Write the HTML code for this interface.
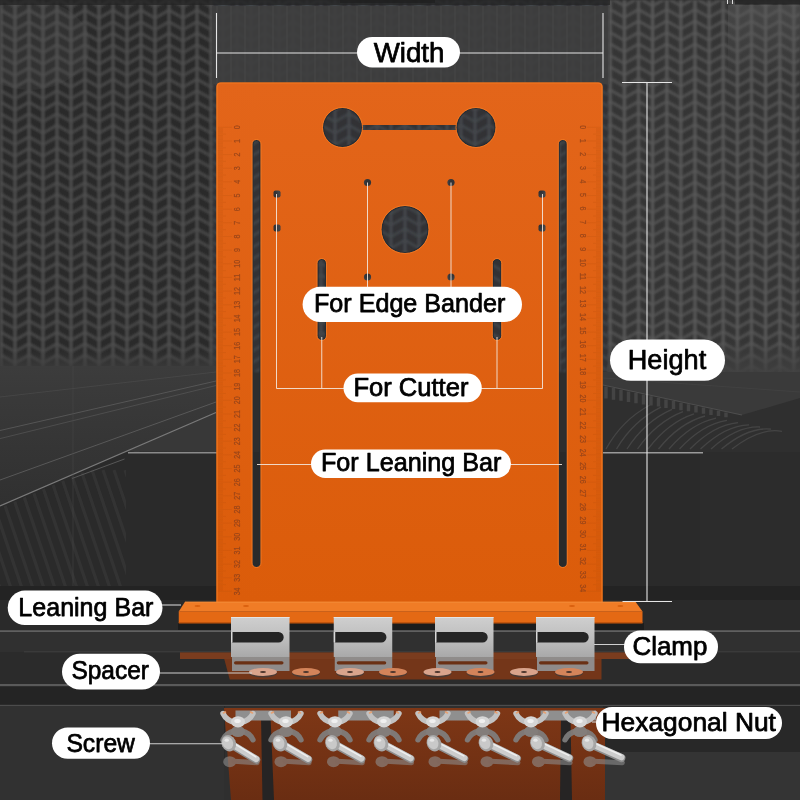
<!DOCTYPE html>
<html><head><meta charset="utf-8"><title>Product diagram</title>
<style>
html,body{margin:0;padding:0;background:#2e2e2e;}
body{width:800px;height:800px;overflow:hidden;font-family:"Liberation Sans",sans-serif;}
svg{display:block;}
svg text{font-family:"Liberation Sans",sans-serif;}
</style></head><body>
<svg width="800" height="800" viewBox="0 0 800 800">
<defs>
  <pattern id="chev" x="1" y="10.2" width="28" height="11.5" patternUnits="userSpaceOnUse">
    <rect width="28" height="11.5" fill="#2b2b2b"/>
    <path d="M0 -11.5 L14 -3.5 L28 -11.5 M0 0 L14 8 L28 0 M0 11.5 L14 19.5 L28 11.5" stroke="#4a4a4a" stroke-width="2.5" fill="none"/>
    <path d="M0 -2 V14 M14 -2 V14 M28 -2 V14" stroke="#4f4f4f" stroke-width="2.6" fill="none"/>
  </pattern>
  <pattern id="chevM" x="13" y="10.2" width="28" height="11.5" patternUnits="userSpaceOnUse">
    <rect width="28" height="11.5" fill="#303336"/>
    <path d="M0 -11.5 L14 -3.5 L28 -11.5 M0 0 L14 8 L28 0 M0 11.5 L14 19.5 L28 11.5" stroke="#42454a" stroke-width="2.5" fill="none"/>
    <path d="M0 -2 V14 M14 -2 V14 M28 -2 V14" stroke="#464a4e" stroke-width="2.6" fill="none"/>
  </pattern>
  <pattern id="chevR" x="17" y="9.5" width="28.25" height="11.5" patternUnits="userSpaceOnUse">
    <rect width="28.25" height="11.5" fill="#363636"/>
    <path d="M0 -11.5 L14.125 -3.5 L28.25 -11.5 M0 0 L14.125 8 L28.25 0 M0 11.5 L14.125 19.5 L28.25 11.5" stroke="#535353" stroke-width="2.5" fill="none"/>
    <path d="M0 -2 V14 M14.125 -2 V14 M28.25 -2 V14" stroke="#595959" stroke-width="2.6" fill="none"/>
  </pattern>
  <linearGradient id="wallx" x1="0" x2="1" y1="0" y2="0">
    <stop offset="0" stop-color="#000" stop-opacity="0.10"/>
    <stop offset="0.35" stop-color="#000" stop-opacity="0"/>
    <stop offset="0.7" stop-color="#fff" stop-opacity="0.04"/>
    <stop offset="1" stop-color="#fff" stop-opacity="0.06"/>
  </linearGradient>
  <linearGradient id="fadeR" x1="0" x2="0" y1="0" y2="1"><stop offset="0" stop-color="#404040" stop-opacity="0"/><stop offset="1" stop-color="#404040" stop-opacity="0.9"/></linearGradient>
  <linearGradient id="fadeL" x1="0" x2="0" y1="0" y2="1"><stop offset="0" stop-color="#3c3c3c" stop-opacity="0"/><stop offset="1" stop-color="#3c3c3c" stop-opacity="0.8"/></linearGradient>
  <linearGradient id="hazeTR" x1="0" x2="0" y1="0" y2="1"><stop offset="0" stop-color="#5a5a5a" stop-opacity="0.5"/><stop offset="1" stop-color="#5a5a5a" stop-opacity="0"/></linearGradient>
  <linearGradient id="floor" x1="0" x2="0" y1="0" y2="1">
    <stop offset="0" stop-color="#3c3c3c"/>
    <stop offset="1" stop-color="#303030"/>
  </linearGradient>
  <linearGradient id="plate" x1="0" x2="0" y1="0" y2="1">
    <stop offset="0" stop-color="#e3651a"/>
    <stop offset="1" stop-color="#db5c0a"/>
  </linearGradient>
  <linearGradient id="clampg" x1="0" x2="0" y1="0" y2="1">
    <stop offset="0" stop-color="#cfcfcf"/>
    <stop offset="0.55" stop-color="#bdbdbd"/>
    <stop offset="1" stop-color="#a9a9a9"/>
  </linearGradient>
  <linearGradient id="screwg" x1="0" x2="0" y1="0" y2="1">
    <stop offset="0" stop-color="#e6e6e6"/>
    <stop offset="0.5" stop-color="#bdbdbd"/>
    <stop offset="1" stop-color="#8a8a8a"/>
  </linearGradient>
  <linearGradient id="refl" x1="0" x2="0" y1="0" y2="1">
    <stop offset="0" stop-color="#7e3716"/>
    <stop offset="1" stop-color="#6a2d12"/>
  </linearGradient>
  <filter id="soft" x="0" y="0" width="1" height="1"><feGaussianBlur stdDeviation="0.8"/></filter>
  <clipPath id="wedgeclip"><path d="M0 508 L126 453.5 V586 H0 Z"/></clipPath>
  <mask id="holes">
    <rect x="0" y="0" width="800" height="800" fill="#fff"/>
    <g fill="#000" stroke="none">
      <circle cx="342.5" cy="127.5" r="19.5"/>
      <circle cx="476" cy="127.5" r="19.5"/>
      <rect x="342" y="125" width="134" height="5"/>
      <circle cx="405" cy="229.5" r="23.5"/>
      <rect x="252.5" y="140" width="8" height="427" rx="4"/>
      <rect x="558.75" y="140" width="8" height="427" rx="4"/>
      <rect x="317.5" y="259" width="8.5" height="81" rx="4.2"/>
      <rect x="492.75" y="259" width="8.5" height="81" rx="4.2"/>
      <circle cx="367.5" cy="182.5" r="3.6"/>
      <circle cx="451" cy="182.5" r="3.6"/>
      <circle cx="367.5" cy="277" r="3.6"/>
      <circle cx="451" cy="277" r="3.6"/>
      <rect x="273.5" y="190.5" width="7" height="7" rx="2"/>
      <rect x="273.5" y="224.5" width="7" height="7" rx="2"/>
      <rect x="538.5" y="190.5" width="7" height="7" rx="2"/>
      <rect x="538.5" y="224.5" width="7" height="7" rx="2"/>
    </g>
  </mask>
</defs>

<rect width="800" height="800" fill="#2e2e2e"/>
<g filter="url(#soft)">
<rect x="0" y="0" width="213" height="372" fill="url(#chev)"/>
<rect x="213" y="0" width="395" height="372" fill="url(#chevM)"/>
<rect x="608" y="0" width="192" height="374" fill="url(#chevR)"/>
</g>
<rect x="608" y="340" width="192" height="34" fill="url(#fadeR)"/>
<rect x="0" y="350" width="216" height="17" fill="url(#fadeL)"/>
<ellipse cx="30" cy="45" rx="60" ry="45" fill="#5a5a5a" opacity="0.18"/>
<rect x="212" y="6" width="396" height="78" fill="#3f3f3f" opacity="0.88"/>
<path d="M217 6V84 M231 6V84 M245 6V84 M259 6V84 M273 6V84 M287 6V84 M301 6V84 M315 6V84 M329 6V84 M343 6V84 M357 6V84 M371 6V84 M385 6V84 M399 6V84 M413 6V84 M427 6V84 M441 6V84 M455 6V84 M469 6V84 M483 6V84 M497 6V84 M511 6V84 M525 6V84 M539 6V84 M553 6V84 M567 6V84 M581 6V84 M595 6V84 M609 6V84" stroke="#474747" stroke-width="2" opacity="0.55"/>
<rect x="0" y="0" width="610" height="5" fill="#222" opacity="0.7"/>
<rect x="735" y="0" width="65" height="4.5" fill="#262626" opacity="0.9"/>
<rect x="728" y="5" width="72" height="75" fill="url(#hazeTR)"/>
<path d="M727.5 0 V4 M732.5 0 V4" stroke="#ddd" stroke-width="1"/>
<rect x="340" y="0" width="95" height="3" fill="#1c1c1c" opacity="0.6"/>
<path d="M0 366 H216 V412.5 L0 506 Z" fill="url(#floor)"/>
<path d="M0 506 L216 412.5 V586 H0 Z" fill="#2a2a2a"/>
<path d="M-40 470 l44 130 M-29 470 l44 130 M-18 470 l44 130 M-7 470 l44 130 M4 470 l44 130 M15 470 l44 130 M26 470 l44 130 M37 470 l44 130 M48 470 l44 130 M59 470 l44 130 M70 470 l44 130 M81 470 l44 130 M92 470 l44 130 M103 470 l44 130 M114 470 l44 130 M125 470 l44 130 M136 470 l44 130 M147 470 l44 130" stroke="#353535" stroke-width="3.2" opacity="0.9" clip-path="url(#wedgeclip)"/>
<path d="M130 455.0 l8 -5 M137 452.0 l8 -5 M144 449.0 l8 -5 M151 446.0 l8 -5 M158 443.0 l8 -5 M165 440.0 l8 -5 M172 437.0 l8 -5 M179 434.0 l8 -5 M186 431.0 l8 -5 M193 428.0 l8 -5 M200 425.0 l8 -5 M207 422.0 l8 -5" stroke="#3d3d3d" stroke-width="2" opacity="0.9"/>
<g stroke="#5c5c5c" stroke-width="1" fill="none"><path d="M0 397 L216 372" opacity="0.35"/><path d="M0 430.5 L216 381" opacity="0.8"/><path d="M0 438.6 L216 385.5" opacity="0.6"/><path d="M0 480 L216 402" opacity="0.9"/><path d="M72 478.5 L124.5 459" opacity="0.9"/></g>
<path d="M126 451.5 L216 412.5 V452 Z" fill="#383838"/>
<path d="M0 506 L216 412.5" stroke="#7a7a7a" stroke-width="1.3"/>
<path d="M73 366 V600" stroke="#4a4a4a" stroke-width="0.8" opacity="0.6"/>
<rect x="603" y="372" width="197" height="82" fill="#2f2f2f"/>
<path d="M603 372 H800 V398 L742 415 L603 385 Z" fill="#3a3a3a"/>
<path d="M603 385 L742 415" stroke="#4e4e4e" stroke-width="1.2"/>
<path d="M603 378 L800 392" stroke="#444" stroke-width="1" opacity="0.7"/>
<path d="M606.0 386.5 v12.0 M613.5 388.1 v11.6 M621.0 389.7 v11.1 M628.5 391.4 v10.7 M636.0 393.0 v10.2 M643.5 394.6 v9.8 M651.0 396.2 v9.3 M658.5 397.8 v8.8 M666.0 399.5 v8.4 M673.5 401.1 v8.0 M681.0 402.7 v7.5 M688.5 404.3 v7.0 M696.0 405.9 v6.6 M703.5 407.6 v6.1 M711.0 409.2 v5.7 M718.5 410.8 v5.2 M726.0 412.4 v4.8" stroke="#474747" stroke-width="3.4" opacity="0.9"/>
<g stroke="#464646" stroke-width="1.3" fill="none" opacity="0.95"><path d="M606.0 449 Q622.0 420.0 650.0 405.0"/><path d="M616.5 449 Q633.5 420.6 661.0 407.2"/><path d="M627.0 449 Q645.0 421.2 672.0 409.4"/><path d="M637.5 449 Q656.5 421.8 683.0 411.6"/><path d="M648.0 449 Q668.0 422.4 694.0 413.8"/><path d="M658.5 449 Q679.5 423.0 705.0 416.0"/><path d="M669.0 449 Q691.0 423.6 716.0 418.2"/><path d="M679.5 449 Q702.5 424.2 727.0 420.4"/><path d="M690.0 449 Q714.0 424.8 738.0 422.6"/><path d="M700.5 449 Q725.5 425.4 749.0 424.8"/><path d="M711.0 449 Q737.0 426.0 760.0 427.0"/><path d="M721.5 449 Q748.5 426.6 771.0 429.2"/><path d="M732.0 449 Q760.0 427.2 782.0 431.4"/></g>
<rect x="126" y="452" width="575" height="134" fill="#2a2a2a"/>
<rect x="700" y="452" width="100" height="134" fill="#2c2c2c"/>
<rect x="128" y="452" width="90" height="1.5" fill="#8a8a8a"/>
<rect x="603" y="452" width="100" height="1.5" fill="#9a9a9a"/>
<rect x="0" y="586" width="800" height="214" fill="#2d2d2d"/>
<rect x="0" y="586" width="800" height="14" fill="#232323"/>
<rect x="0" y="600" width="800" height="31" fill="#2a2a2a"/>
<rect x="0" y="630.3" width="800" height="1.6" fill="#666"/>
<rect x="0" y="632" width="800" height="20" fill="#303030"/>
<rect x="24" y="651.5" width="776" height="1" fill="#454545"/>
<rect x="0" y="652.5" width="800" height="32" fill="#2b2b2b"/>
<rect x="0" y="684" width="800" height="2.4" fill="#5a5a5a"/>
<rect x="0" y="686.4" width="800" height="19" fill="#242424"/>
<rect x="0" y="704.8" width="800" height="1.2" fill="#4c4c4c"/>
<rect x="0" y="706" width="800" height="94" fill="#2f2f2f"/>
<rect x="0" y="752" width="26" height="1" fill="#484848"/>
<rect x="603" y="706" width="197" height="46" fill="#282828"/>
<rect x="605" y="752" width="195" height="48" fill="#343434"/>
<rect x="135" y="706" width="90" height="56" fill="#292929"/>
<rect x="0" y="706" width="224" height="94" fill="#313131"/>
<rect x="178" y="623" width="466" height="7" fill="#1c1c1c"/>
<path d="M224 658 L601.5 658 L601.5 679.5 L229.7 679.5 Z" fill="#743619"/>
<rect x="180" y="652.4" width="462" height="6.6" fill="#7a3c1e"/>
<path d="M224 708 L605 708 L605 800 L231 800 Z" fill="url(#refl)"/>
<path d="M261 716 L270.5 716 L274 800 L262.5 800 Z" fill="#262424"/>
<path d="M561 716 L570.5 716 L572 800 L560 800 Z" fill="#262424"/>
<g mask="url(#holes)">
<path d="M216.5 603 V86.5 a4 4 0 0 1 4 -4 H598.5 a4 4 0 0 1 4 4 V603 Z" fill="url(#plate)"/>
</g>
<g fill="none" stroke="#242c36" stroke-width="1.2" opacity="0.9"><circle cx="342.5" cy="127.5" r="19"/><circle cx="476" cy="127.5" r="19"/><circle cx="405" cy="229.5" r="23"/><rect x="253" y="140.5" width="7" height="426" rx="3.5"/><rect x="559.25" y="140.5" width="7" height="426" rx="3.5"/><rect x="318" y="259.5" width="7.5" height="80" rx="3.7"/><rect x="493.25" y="259.5" width="7.5" height="80" rx="3.7"/></g>
<g fill="none" stroke="#f27a24" stroke-width="1" opacity="0.9"><circle cx="342.5" cy="127.5" r="20"/><circle cx="476" cy="127.5" r="20"/><circle cx="405" cy="229.5" r="24"/><rect x="252" y="139.5" width="9" height="428" rx="4.5"/><rect x="558.25" y="139.5" width="9" height="428" rx="4.5"/><rect x="317" y="258.5" width="9.5" height="82" rx="4.7"/><rect x="492.25" y="258.5" width="9.5" height="82" rx="4.7"/></g>
<path d="M217 602 V87 a4 4 0 0 1 4 -4 H598 a4 4 0 0 1 4 4 V602" fill="none" stroke="#f47a20" stroke-width="1.2" opacity="0.9"/>
<g font-size="9.6" fill="#96441a" opacity="0.92" stroke="#96441a" stroke-width="0.25"><text transform="translate(240 127.30) rotate(-90) scale(0.74 1)" text-anchor="middle">0</text><text transform="translate(580.2 127.20) rotate(90) scale(0.74 1)" text-anchor="middle">0</text><text transform="translate(240 140.95) rotate(-90) scale(0.74 1)" text-anchor="middle">1</text><text transform="translate(580.2 140.76) rotate(90) scale(0.74 1)" text-anchor="middle">1</text><text transform="translate(240 154.60) rotate(-90) scale(0.74 1)" text-anchor="middle">2</text><text transform="translate(580.2 154.32) rotate(90) scale(0.74 1)" text-anchor="middle">2</text><text transform="translate(240 168.25) rotate(-90) scale(0.74 1)" text-anchor="middle">3</text><text transform="translate(580.2 167.88) rotate(90) scale(0.74 1)" text-anchor="middle">3</text><text transform="translate(240 181.90) rotate(-90) scale(0.74 1)" text-anchor="middle">4</text><text transform="translate(580.2 181.44) rotate(90) scale(0.74 1)" text-anchor="middle">4</text><text transform="translate(240 195.55) rotate(-90) scale(0.74 1)" text-anchor="middle">5</text><text transform="translate(580.2 195.00) rotate(90) scale(0.74 1)" text-anchor="middle">5</text><text transform="translate(240 209.20) rotate(-90) scale(0.74 1)" text-anchor="middle">6</text><text transform="translate(580.2 208.56) rotate(90) scale(0.74 1)" text-anchor="middle">6</text><text transform="translate(240 222.85) rotate(-90) scale(0.74 1)" text-anchor="middle">7</text><text transform="translate(580.2 222.12) rotate(90) scale(0.74 1)" text-anchor="middle">7</text><text transform="translate(240 236.50) rotate(-90) scale(0.74 1)" text-anchor="middle">8</text><text transform="translate(580.2 235.68) rotate(90) scale(0.74 1)" text-anchor="middle">8</text><text transform="translate(240 250.15) rotate(-90) scale(0.74 1)" text-anchor="middle">9</text><text transform="translate(580.2 249.24) rotate(90) scale(0.74 1)" text-anchor="middle">9</text><text transform="translate(240 263.80) rotate(-90) scale(0.74 1)" text-anchor="middle">10</text><text transform="translate(580.2 262.80) rotate(90) scale(0.74 1)" text-anchor="middle">10</text><text transform="translate(240 277.45) rotate(-90) scale(0.74 1)" text-anchor="middle">11</text><text transform="translate(580.2 276.36) rotate(90) scale(0.74 1)" text-anchor="middle">11</text><text transform="translate(240 291.10) rotate(-90) scale(0.74 1)" text-anchor="middle">12</text><text transform="translate(580.2 289.92) rotate(90) scale(0.74 1)" text-anchor="middle">12</text><text transform="translate(240 304.75) rotate(-90) scale(0.74 1)" text-anchor="middle">13</text><text transform="translate(580.2 303.48) rotate(90) scale(0.74 1)" text-anchor="middle">13</text><text transform="translate(240 318.40) rotate(-90) scale(0.74 1)" text-anchor="middle">14</text><text transform="translate(580.2 317.04) rotate(90) scale(0.74 1)" text-anchor="middle">14</text><text transform="translate(240 332.05) rotate(-90) scale(0.74 1)" text-anchor="middle">15</text><text transform="translate(580.2 330.60) rotate(90) scale(0.74 1)" text-anchor="middle">15</text><text transform="translate(240 345.70) rotate(-90) scale(0.74 1)" text-anchor="middle">16</text><text transform="translate(580.2 344.16) rotate(90) scale(0.74 1)" text-anchor="middle">16</text><text transform="translate(240 359.35) rotate(-90) scale(0.74 1)" text-anchor="middle">17</text><text transform="translate(580.2 357.72) rotate(90) scale(0.74 1)" text-anchor="middle">17</text><text transform="translate(240 373.00) rotate(-90) scale(0.74 1)" text-anchor="middle">18</text><text transform="translate(580.2 371.28) rotate(90) scale(0.74 1)" text-anchor="middle">18</text><text transform="translate(240 386.65) rotate(-90) scale(0.74 1)" text-anchor="middle">19</text><text transform="translate(580.2 384.84) rotate(90) scale(0.74 1)" text-anchor="middle">19</text><text transform="translate(240 400.30) rotate(-90) scale(0.74 1)" text-anchor="middle">20</text><text transform="translate(580.2 398.40) rotate(90) scale(0.74 1)" text-anchor="middle">20</text><text transform="translate(240 413.95) rotate(-90) scale(0.74 1)" text-anchor="middle">21</text><text transform="translate(580.2 411.96) rotate(90) scale(0.74 1)" text-anchor="middle">21</text><text transform="translate(240 427.60) rotate(-90) scale(0.74 1)" text-anchor="middle">22</text><text transform="translate(580.2 425.52) rotate(90) scale(0.74 1)" text-anchor="middle">22</text><text transform="translate(240 441.25) rotate(-90) scale(0.74 1)" text-anchor="middle">23</text><text transform="translate(580.2 439.08) rotate(90) scale(0.74 1)" text-anchor="middle">23</text><text transform="translate(240 454.90) rotate(-90) scale(0.74 1)" text-anchor="middle">24</text><text transform="translate(580.2 452.64) rotate(90) scale(0.74 1)" text-anchor="middle">24</text><text transform="translate(240 468.55) rotate(-90) scale(0.74 1)" text-anchor="middle">25</text><text transform="translate(580.2 466.20) rotate(90) scale(0.74 1)" text-anchor="middle">25</text><text transform="translate(240 482.20) rotate(-90) scale(0.74 1)" text-anchor="middle">26</text><text transform="translate(580.2 479.76) rotate(90) scale(0.74 1)" text-anchor="middle">26</text><text transform="translate(240 495.85) rotate(-90) scale(0.74 1)" text-anchor="middle">27</text><text transform="translate(580.2 493.32) rotate(90) scale(0.74 1)" text-anchor="middle">27</text><text transform="translate(240 509.50) rotate(-90) scale(0.74 1)" text-anchor="middle">28</text><text transform="translate(580.2 506.88) rotate(90) scale(0.74 1)" text-anchor="middle">28</text><text transform="translate(240 523.15) rotate(-90) scale(0.74 1)" text-anchor="middle">29</text><text transform="translate(580.2 520.44) rotate(90) scale(0.74 1)" text-anchor="middle">29</text><text transform="translate(240 536.80) rotate(-90) scale(0.74 1)" text-anchor="middle">30</text><text transform="translate(580.2 534.00) rotate(90) scale(0.74 1)" text-anchor="middle">30</text><text transform="translate(240 550.45) rotate(-90) scale(0.74 1)" text-anchor="middle">31</text><text transform="translate(580.2 547.56) rotate(90) scale(0.74 1)" text-anchor="middle">31</text><text transform="translate(240 564.10) rotate(-90) scale(0.74 1)" text-anchor="middle">32</text><text transform="translate(580.2 561.12) rotate(90) scale(0.74 1)" text-anchor="middle">32</text><text transform="translate(240 577.75) rotate(-90) scale(0.74 1)" text-anchor="middle">33</text><text transform="translate(580.2 574.68) rotate(90) scale(0.74 1)" text-anchor="middle">33</text><text transform="translate(240 591.40) rotate(-90) scale(0.74 1)" text-anchor="middle">34</text><text transform="translate(580.2 588.24) rotate(90) scale(0.74 1)" text-anchor="middle">34</text></g>
<path d="M218 127.30H232 M587 127.30H601 M218 128.66h5 M601 128.66h-5 M218 130.03h5 M601 130.03h-5 M218 131.40h5 M601 131.40h-5 M218 132.76h5 M601 132.76h-5 M218 134.12h8 M601 134.12h-8 M218 135.49h5 M601 135.49h-5 M218 136.85h5 M601 136.85h-5 M218 138.22h5 M601 138.22h-5 M218 139.59h5 M601 139.59h-5 M218 140.95H232 M587 140.95H601 M218 142.31h5 M601 142.31h-5 M218 143.68h5 M601 143.68h-5 M218 145.04h5 M601 145.04h-5 M218 146.41h5 M601 146.41h-5 M218 147.77h8 M601 147.77h-8 M218 149.14h5 M601 149.14h-5 M218 150.50h5 M601 150.50h-5 M218 151.87h5 M601 151.87h-5 M218 153.23h5 M601 153.23h-5 M218 154.60H232 M587 154.60H601 M218 155.97h5 M601 155.97h-5 M218 157.33h5 M601 157.33h-5 M218 158.69h5 M601 158.69h-5 M218 160.06h5 M601 160.06h-5 M218 161.42h8 M601 161.42h-8 M218 162.79h5 M601 162.79h-5 M218 164.16h5 M601 164.16h-5 M218 165.52h5 M601 165.52h-5 M218 166.88h5 M601 166.88h-5 M218 168.25H232 M587 168.25H601 M218 169.62h5 M601 169.62h-5 M218 170.98h5 M601 170.98h-5 M218 172.34h5 M601 172.34h-5 M218 173.71h5 M601 173.71h-5 M218 175.07h8 M601 175.07h-8 M218 176.44h5 M601 176.44h-5 M218 177.81h5 M601 177.81h-5 M218 179.17h5 M601 179.17h-5 M218 180.53h5 M601 180.53h-5 M218 181.90H232 M587 181.90H601 M218 183.27h5 M601 183.27h-5 M218 184.63h5 M601 184.63h-5 M218 186.00h5 M601 186.00h-5 M218 187.36h5 M601 187.36h-5 M218 188.72h8 M601 188.72h-8 M218 190.09h5 M601 190.09h-5 M218 191.46h5 M601 191.46h-5 M218 192.82h5 M601 192.82h-5 M218 194.19h5 M601 194.19h-5 M218 195.55H232 M587 195.55H601 M218 196.92h5 M601 196.92h-5 M218 198.28h5 M601 198.28h-5 M218 199.65h5 M601 199.65h-5 M218 201.01h5 M601 201.01h-5 M218 202.38h8 M601 202.38h-8 M218 203.74h5 M601 203.74h-5 M218 205.11h5 M601 205.11h-5 M218 206.47h5 M601 206.47h-5 M218 207.84h5 M601 207.84h-5 M218 209.20H232 M587 209.20H601 M218 210.56h5 M601 210.56h-5 M218 211.93h5 M601 211.93h-5 M218 213.29h5 M601 213.29h-5 M218 214.66h5 M601 214.66h-5 M218 216.02h8 M601 216.02h-8 M218 217.39h5 M601 217.39h-5 M218 218.75h5 M601 218.75h-5 M218 220.12h5 M601 220.12h-5 M218 221.48h5 M601 221.48h-5 M218 222.85H232 M587 222.85H601 M218 224.22h5 M601 224.22h-5 M218 225.58h5 M601 225.58h-5 M218 226.94h5 M601 226.94h-5 M218 228.31h5 M601 228.31h-5 M218 229.67h8 M601 229.67h-8 M218 231.04h5 M601 231.04h-5 M218 232.41h5 M601 232.41h-5 M218 233.77h5 M601 233.77h-5 M218 235.13h5 M601 235.13h-5 M218 236.50H232 M587 236.50H601 M218 237.87h5 M601 237.87h-5 M218 239.23h5 M601 239.23h-5 M218 240.59h5 M601 240.59h-5 M218 241.96h5 M601 241.96h-5 M218 243.32h8 M601 243.32h-8 M218 244.69h5 M601 244.69h-5 M218 246.06h5 M601 246.06h-5 M218 247.42h5 M601 247.42h-5 M218 248.78h5 M601 248.78h-5 M218 250.15H232 M587 250.15H601 M218 251.52h5 M601 251.52h-5 M218 252.88h5 M601 252.88h-5 M218 254.25h5 M601 254.25h-5 M218 255.61h5 M601 255.61h-5 M218 256.98h8 M601 256.98h-8 M218 258.34h5 M601 258.34h-5 M218 259.70h5 M601 259.70h-5 M218 261.07h5 M601 261.07h-5 M218 262.44h5 M601 262.44h-5 M218 263.80H232 M587 263.80H601 M218 265.17h5 M601 265.17h-5 M218 266.53h5 M601 266.53h-5 M218 267.90h5 M601 267.90h-5 M218 269.26h5 M601 269.26h-5 M218 270.62h8 M601 270.62h-8 M218 271.99h5 M601 271.99h-5 M218 273.36h5 M601 273.36h-5 M218 274.72h5 M601 274.72h-5 M218 276.09h5 M601 276.09h-5 M218 277.45H232 M587 277.45H601 M218 278.81h5 M601 278.81h-5 M218 280.18h5 M601 280.18h-5 M218 281.55h5 M601 281.55h-5 M218 282.91h5 M601 282.91h-5 M218 284.27h8 M601 284.27h-8 M218 285.64h5 M601 285.64h-5 M218 287.00h5 M601 287.00h-5 M218 288.37h5 M601 288.37h-5 M218 289.74h5 M601 289.74h-5 M218 291.10H232 M587 291.10H601 M218 292.47h5 M601 292.47h-5 M218 293.83h5 M601 293.83h-5 M218 295.20h5 M601 295.20h-5 M218 296.56h5 M601 296.56h-5 M218 297.93h8 M601 297.93h-8 M218 299.29h5 M601 299.29h-5 M218 300.66h5 M601 300.66h-5 M218 302.02h5 M601 302.02h-5 M218 303.39h5 M601 303.39h-5 M218 304.75H232 M587 304.75H601 M218 306.12h5 M601 306.12h-5 M218 307.48h5 M601 307.48h-5 M218 308.85h5 M601 308.85h-5 M218 310.21h5 M601 310.21h-5 M218 311.57h8 M601 311.57h-8 M218 312.94h5 M601 312.94h-5 M218 314.31h5 M601 314.31h-5 M218 315.67h5 M601 315.67h-5 M218 317.04h5 M601 317.04h-5 M218 318.40H232 M587 318.40H601 M218 319.76h5 M601 319.76h-5 M218 321.13h5 M601 321.13h-5 M218 322.50h5 M601 322.50h-5 M218 323.86h5 M601 323.86h-5 M218 325.22h8 M601 325.22h-8 M218 326.59h5 M601 326.59h-5 M218 327.95h5 M601 327.95h-5 M218 329.32h5 M601 329.32h-5 M218 330.69h5 M601 330.69h-5 M218 332.05H232 M587 332.05H601 M218 333.42h5 M601 333.42h-5 M218 334.78h5 M601 334.78h-5 M218 336.15h5 M601 336.15h-5 M218 337.51h5 M601 337.51h-5 M218 338.88h8 M601 338.88h-8 M218 340.24h5 M601 340.24h-5 M218 341.61h5 M601 341.61h-5 M218 342.97h5 M601 342.97h-5 M218 344.34h5 M601 344.34h-5 M218 345.70H232 M587 345.70H601 M218 347.06h5 M601 347.06h-5 M218 348.43h5 M601 348.43h-5 M218 349.80h5 M601 349.80h-5 M218 351.16h5 M601 351.16h-5 M218 352.52h8 M601 352.52h-8 M218 353.89h5 M601 353.89h-5 M218 355.25h5 M601 355.25h-5 M218 356.62h5 M601 356.62h-5 M218 357.99h5 M601 357.99h-5 M218 359.35H232 M587 359.35H601 M218 360.72h5 M601 360.72h-5 M218 362.08h5 M601 362.08h-5 M218 363.45h5 M601 363.45h-5 M218 364.81h5 M601 364.81h-5 M218 366.18h8 M601 366.18h-8 M218 367.54h5 M601 367.54h-5 M218 368.91h5 M601 368.91h-5 M218 370.27h5 M601 370.27h-5 M218 371.64h5 M601 371.64h-5 M218 373.00H232 M587 373.00H601 M218 374.37h5 M601 374.37h-5 M218 375.73h5 M601 375.73h-5 M218 377.10h5 M601 377.10h-5 M218 378.46h5 M601 378.46h-5 M218 379.82h8 M601 379.82h-8 M218 381.19h5 M601 381.19h-5 M218 382.56h5 M601 382.56h-5 M218 383.92h5 M601 383.92h-5 M218 385.29h5 M601 385.29h-5 M218 386.65H232 M587 386.65H601 M218 388.02h5 M601 388.02h-5 M218 389.38h5 M601 389.38h-5 M218 390.75h5 M601 390.75h-5 M218 392.11h5 M601 392.11h-5 M218 393.48h8 M601 393.48h-8 M218 394.84h5 M601 394.84h-5 M218 396.21h5 M601 396.21h-5 M218 397.57h5 M601 397.57h-5 M218 398.94h5 M601 398.94h-5 M218 400.30H232 M587 400.30H601 M218 401.67h5 M601 401.67h-5 M218 403.03h5 M601 403.03h-5 M218 404.40h5 M601 404.40h-5 M218 405.76h5 M601 405.76h-5 M218 407.12h8 M601 407.12h-8 M218 408.49h5 M601 408.49h-5 M218 409.86h5 M601 409.86h-5 M218 411.22h5 M601 411.22h-5 M218 412.59h5 M601 412.59h-5 M218 413.95H232 M587 413.95H601 M218 415.32h5 M601 415.32h-5 M218 416.68h5 M601 416.68h-5 M218 418.05h5 M601 418.05h-5 M218 419.41h5 M601 419.41h-5 M218 420.78h8 M601 420.78h-8 M218 422.14h5 M601 422.14h-5 M218 423.51h5 M601 423.51h-5 M218 424.87h5 M601 424.87h-5 M218 426.24h5 M601 426.24h-5 M218 427.60H232 M587 427.60H601 M218 428.97h5 M601 428.97h-5 M218 430.33h5 M601 430.33h-5 M218 431.70h5 M601 431.70h-5 M218 433.06h5 M601 433.06h-5 M218 434.43h8 M601 434.43h-8 M218 435.79h5 M601 435.79h-5 M218 437.16h5 M601 437.16h-5 M218 438.52h5 M601 438.52h-5 M218 439.89h5 M601 439.89h-5 M218 441.25H232 M587 441.25H601 M218 442.62h5 M601 442.62h-5 M218 443.98h5 M601 443.98h-5 M218 445.35h5 M601 445.35h-5 M218 446.71h5 M601 446.71h-5 M218 448.07h8 M601 448.07h-8 M218 449.44h5 M601 449.44h-5 M218 450.81h5 M601 450.81h-5 M218 452.17h5 M601 452.17h-5 M218 453.54h5 M601 453.54h-5 M218 454.90H232 M587 454.90H601 M218 456.27h5 M601 456.27h-5 M218 457.63h5 M601 457.63h-5 M218 459.00h5 M601 459.00h-5 M218 460.36h5 M601 460.36h-5 M218 461.73h8 M601 461.73h-8 M218 463.09h5 M601 463.09h-5 M218 464.46h5 M601 464.46h-5 M218 465.82h5 M601 465.82h-5 M218 467.19h5 M601 467.19h-5 M218 468.55H232 M587 468.55H601 M218 469.92h5 M601 469.92h-5 M218 471.28h5 M601 471.28h-5 M218 472.65h5 M601 472.65h-5 M218 474.01h5 M601 474.01h-5 M218 475.38h8 M601 475.38h-8 M218 476.74h5 M601 476.74h-5 M218 478.11h5 M601 478.11h-5 M218 479.47h5 M601 479.47h-5 M218 480.84h5 M601 480.84h-5 M218 482.20H232 M587 482.20H601 M218 483.57h5 M601 483.57h-5 M218 484.93h5 M601 484.93h-5 M218 486.30h5 M601 486.30h-5 M218 487.66h5 M601 487.66h-5 M218 489.03h8 M601 489.03h-8 M218 490.39h5 M601 490.39h-5 M218 491.76h5 M601 491.76h-5 M218 493.12h5 M601 493.12h-5 M218 494.49h5 M601 494.49h-5 M218 495.85H232 M587 495.85H601 M218 497.22h5 M601 497.22h-5 M218 498.58h5 M601 498.58h-5 M218 499.95h5 M601 499.95h-5 M218 501.31h5 M601 501.31h-5 M218 502.68h8 M601 502.68h-8 M218 504.04h5 M601 504.04h-5 M218 505.41h5 M601 505.41h-5 M218 506.77h5 M601 506.77h-5 M218 508.14h5 M601 508.14h-5 M218 509.50H232 M587 509.50H601 M218 510.87h5 M601 510.87h-5 M218 512.23h5 M601 512.23h-5 M218 513.60h5 M601 513.60h-5 M218 514.96h5 M601 514.96h-5 M218 516.33h8 M601 516.33h-8 M218 517.69h5 M601 517.69h-5 M218 519.05h5 M601 519.05h-5 M218 520.42h5 M601 520.42h-5 M218 521.78h5 M601 521.78h-5 M218 523.15H232 M587 523.15H601 M218 524.51h5 M601 524.51h-5 M218 525.88h5 M601 525.88h-5 M218 527.25h5 M601 527.25h-5 M218 528.61h5 M601 528.61h-5 M218 529.98h8 M601 529.98h-8 M218 531.34h5 M601 531.34h-5 M218 532.70h5 M601 532.70h-5 M218 534.07h5 M601 534.07h-5 M218 535.43h5 M601 535.43h-5 M218 536.80H232 M587 536.80H601 M218 538.16h5 M601 538.16h-5 M218 539.53h5 M601 539.53h-5 M218 540.89h5 M601 540.89h-5 M218 542.26h5 M601 542.26h-5 M218 543.62h8 M601 543.62h-8 M218 544.99h5 M601 544.99h-5 M218 546.35h5 M601 546.35h-5 M218 547.72h5 M601 547.72h-5 M218 549.08h5 M601 549.08h-5 M218 550.45H232 M587 550.45H601 M218 551.82h5 M601 551.82h-5 M218 553.18h5 M601 553.18h-5 M218 554.55h5 M601 554.55h-5 M218 555.91h5 M601 555.91h-5 M218 557.28h8 M601 557.28h-8 M218 558.64h5 M601 558.64h-5 M218 560.00h5 M601 560.00h-5 M218 561.37h5 M601 561.37h-5 M218 562.74h5 M601 562.74h-5 M218 564.10H232 M587 564.10H601 M218 565.47h5 M601 565.47h-5 M218 566.83h5 M601 566.83h-5 M218 568.20h5 M601 568.20h-5 M218 569.56h5 M601 569.56h-5 M218 570.93h8 M601 570.93h-8 M218 572.29h5 M601 572.29h-5 M218 573.65h5 M601 573.65h-5 M218 575.02h5 M601 575.02h-5 M218 576.38h5 M601 576.38h-5 M218 577.75H232 M587 577.75H601 M218 579.12h5 M601 579.12h-5 M218 580.48h5 M601 580.48h-5 M218 581.85h5 M601 581.85h-5 M218 583.21h5 M601 583.21h-5 M218 584.58h8 M601 584.58h-8 M218 585.94h5 M601 585.94h-5 M218 587.30h5 M601 587.30h-5 M218 588.67h5 M601 588.67h-5 M218 590.03h5 M601 590.03h-5 M218 591.40H232 M587 591.40H601" stroke="#b8500f" stroke-width="0.5" opacity="0.45" fill="none"/>
<path d="M185 601.8 L635.5 601.8 L642.5 611.5 L178.75 611.5 Z" fill="#f07c26"/>
<rect x="178.75" y="611.3" width="463.75" height="11.9" fill="#e46914"/>
<rect x="178.75" y="622.2" width="463.75" height="1.2" fill="#b9500c"/>
<path d="M185 602.1 H635.5" stroke="#f89a4a" stroke-width="0.8" opacity="0.7"/>
<ellipse cx="197.5" cy="606" rx="3" ry="1" fill="#d9600e"/>
<ellipse cx="246" cy="606" rx="3" ry="1" fill="#d9600e"/>
<ellipse cx="572" cy="606" rx="3" ry="1" fill="#d9600e"/>
<ellipse cx="620.4" cy="606" rx="3" ry="1" fill="#d9600e"/>
<rect x="232" y="657" width="57.5" height="14" fill="#909090" opacity="0.95"/>
<rect x="234" y="661.2" width="49.5" height="3.2" rx="1.6" fill="#6a3014"/>
<rect x="231" y="617" width="58.5" height="40" fill="url(#clampg)"/>
<rect x="231" y="617" width="58.5" height="1" fill="#e4e4e4"/>
<path d="M232 632 H278.5 a5.2 5.2 0 0 1 0 10.4 H232 Z" fill="#242424"/>
<rect x="231" y="632" width="1.5" height="10.4" fill="#d8d8d8"/>
<rect x="235.5" y="710.5" width="55.5" height="10" fill="#8f8f8f"/>
<rect x="334.75" y="657" width="57.5" height="14" fill="#909090" opacity="0.95"/>
<rect x="336.75" y="661.2" width="49.5" height="3.2" rx="1.6" fill="#6a3014"/>
<rect x="333.75" y="617" width="58.5" height="40" fill="url(#clampg)"/>
<rect x="333.75" y="617" width="58.5" height="1" fill="#e4e4e4"/>
<path d="M334.75 632 H381.25 a5.2 5.2 0 0 1 0 10.4 H334.75 Z" fill="#242424"/>
<rect x="333.75" y="632" width="1.5" height="10.4" fill="#d8d8d8"/>
<rect x="338.25" y="710.5" width="55.5" height="10" fill="#8f8f8f"/>
<rect x="436" y="657" width="57.5" height="14" fill="#909090" opacity="0.95"/>
<rect x="438" y="661.2" width="49.5" height="3.2" rx="1.6" fill="#6a3014"/>
<rect x="435" y="617" width="58.5" height="40" fill="url(#clampg)"/>
<rect x="435" y="617" width="58.5" height="1" fill="#e4e4e4"/>
<path d="M436 632 H482.5 a5.2 5.2 0 0 1 0 10.4 H436 Z" fill="#242424"/>
<rect x="435" y="632" width="1.5" height="10.4" fill="#d8d8d8"/>
<rect x="439.5" y="710.5" width="55.5" height="10" fill="#8f8f8f"/>
<rect x="537" y="657" width="57.5" height="14" fill="#909090" opacity="0.95"/>
<rect x="539" y="661.2" width="49.5" height="3.2" rx="1.6" fill="#6a3014"/>
<rect x="536" y="617" width="58.5" height="40" fill="url(#clampg)"/>
<rect x="536" y="617" width="58.5" height="1" fill="#e4e4e4"/>
<path d="M537 632 H583.5 a5.2 5.2 0 0 1 0 10.4 H537 Z" fill="#242424"/>
<rect x="536" y="632" width="1.5" height="10.4" fill="#d8d8d8"/>
<rect x="540.5" y="710.5" width="55.5" height="10" fill="#8f8f8f"/>
<ellipse cx="263" cy="673.2" rx="14" ry="4.2" fill="#4a3a34"/>
<ellipse cx="263" cy="672" rx="14" ry="3.9" fill="#d9a48c"/>
<ellipse cx="263" cy="672" rx="3" ry="1" fill="#4a342c"/>
<ellipse cx="306" cy="673.2" rx="14" ry="4.2" fill="#4a3a34"/>
<ellipse cx="306" cy="672" rx="14" ry="3.9" fill="#d4845a"/>
<ellipse cx="306" cy="672" rx="3" ry="1" fill="#4a342c"/>
<ellipse cx="350" cy="673.2" rx="14" ry="4.2" fill="#4a3a34"/>
<ellipse cx="350" cy="672" rx="14" ry="3.9" fill="#d9a48c"/>
<ellipse cx="350" cy="672" rx="3" ry="1" fill="#4a342c"/>
<ellipse cx="393" cy="673.2" rx="14" ry="4.2" fill="#4a3a34"/>
<ellipse cx="393" cy="672" rx="14" ry="3.9" fill="#d4845a"/>
<ellipse cx="393" cy="672" rx="3" ry="1" fill="#4a342c"/>
<ellipse cx="437.5" cy="673.2" rx="14" ry="4.2" fill="#4a3a34"/>
<ellipse cx="437.5" cy="672" rx="14" ry="3.9" fill="#d9a48c"/>
<ellipse cx="437.5" cy="672" rx="3" ry="1" fill="#4a342c"/>
<ellipse cx="480.5" cy="673.2" rx="14" ry="4.2" fill="#4a3a34"/>
<ellipse cx="480.5" cy="672" rx="14" ry="3.9" fill="#d4845a"/>
<ellipse cx="480.5" cy="672" rx="3" ry="1" fill="#4a342c"/>
<ellipse cx="524" cy="673.2" rx="14" ry="4.2" fill="#4a3a34"/>
<ellipse cx="524" cy="672" rx="14" ry="3.9" fill="#d9a48c"/>
<ellipse cx="524" cy="672" rx="3" ry="1" fill="#4a342c"/>
<ellipse cx="569" cy="673.2" rx="14" ry="4.2" fill="#4a3a34"/>
<ellipse cx="569" cy="672" rx="14" ry="3.9" fill="#d4845a"/>
<ellipse cx="569" cy="672" rx="3" ry="1" fill="#4a342c"/>
<g opacity="0.9" fill="none" stroke-linecap="round"><path d="M235 731.0 Q226.5 732.5 223 739.8" stroke="#808080" stroke-width="5.4"/><path d="M241 731.0 Q249.5 732.5 253 739.8" stroke="#808080" stroke-width="5.4"/><ellipse cx="238" cy="731.5" rx="7" ry="5.6" fill="#858585" stroke="none"/></g>
<g opacity="1" fill="none" stroke-linecap="round"><path d="M235 722.3 Q226.5 720.8 223 713.5" stroke="#c2c2c2" stroke-width="5.4"/><path d="M241 722.3 Q249.5 720.8 253 713.5" stroke="#c2c2c2" stroke-width="5.4"/><ellipse cx="238" cy="721.8" rx="7" ry="5.6" fill="#d6d6d6" stroke="none"/></g>
<ellipse cx="237.5" cy="721" rx="3.2" ry="2" fill="#f0f0f0"/>
<path d="M223.5 713 l2 -1 M252.5 713 l-2 -1" stroke="#e8a070" stroke-width="1.6" stroke-linecap="round"/>
<g opacity="0.9" fill="none" stroke-linecap="round"><path d="M283 731.0 Q274.5 732.5 271 739.8" stroke="#808080" stroke-width="5.4"/><path d="M289 731.0 Q297.5 732.5 301 739.8" stroke="#808080" stroke-width="5.4"/><ellipse cx="286" cy="731.5" rx="7" ry="5.6" fill="#858585" stroke="none"/></g>
<g opacity="1" fill="none" stroke-linecap="round"><path d="M283 722.3 Q274.5 720.8 271 713.5" stroke="#c2c2c2" stroke-width="5.4"/><path d="M289 722.3 Q297.5 720.8 301 713.5" stroke="#c2c2c2" stroke-width="5.4"/><ellipse cx="286" cy="721.8" rx="7" ry="5.6" fill="#d6d6d6" stroke="none"/></g>
<ellipse cx="285.5" cy="721" rx="3.2" ry="2" fill="#f0f0f0"/>
<path d="M271.5 713 l2 -1 M300.5 713 l-2 -1" stroke="#e8a070" stroke-width="1.6" stroke-linecap="round"/>
<g opacity="0.9" fill="none" stroke-linecap="round"><path d="M332 731.0 Q323.5 732.5 320 739.8" stroke="#808080" stroke-width="5.4"/><path d="M338 731.0 Q346.5 732.5 350 739.8" stroke="#808080" stroke-width="5.4"/><ellipse cx="335" cy="731.5" rx="7" ry="5.6" fill="#858585" stroke="none"/></g>
<g opacity="1" fill="none" stroke-linecap="round"><path d="M332 722.3 Q323.5 720.8 320 713.5" stroke="#c2c2c2" stroke-width="5.4"/><path d="M338 722.3 Q346.5 720.8 350 713.5" stroke="#c2c2c2" stroke-width="5.4"/><ellipse cx="335" cy="721.8" rx="7" ry="5.6" fill="#d6d6d6" stroke="none"/></g>
<ellipse cx="334.5" cy="721" rx="3.2" ry="2" fill="#f0f0f0"/>
<path d="M320.5 713 l2 -1 M349.5 713 l-2 -1" stroke="#e8a070" stroke-width="1.6" stroke-linecap="round"/>
<g opacity="0.9" fill="none" stroke-linecap="round"><path d="M381 731.0 Q372.5 732.5 369 739.8" stroke="#808080" stroke-width="5.4"/><path d="M387 731.0 Q395.5 732.5 399 739.8" stroke="#808080" stroke-width="5.4"/><ellipse cx="384" cy="731.5" rx="7" ry="5.6" fill="#858585" stroke="none"/></g>
<g opacity="1" fill="none" stroke-linecap="round"><path d="M381 722.3 Q372.5 720.8 369 713.5" stroke="#c2c2c2" stroke-width="5.4"/><path d="M387 722.3 Q395.5 720.8 399 713.5" stroke="#c2c2c2" stroke-width="5.4"/><ellipse cx="384" cy="721.8" rx="7" ry="5.6" fill="#d6d6d6" stroke="none"/></g>
<ellipse cx="383.5" cy="721" rx="3.2" ry="2" fill="#f0f0f0"/>
<path d="M369.5 713 l2 -1 M398.5 713 l-2 -1" stroke="#e8a070" stroke-width="1.6" stroke-linecap="round"/>
<g opacity="0.9" fill="none" stroke-linecap="round"><path d="M430 731.0 Q421.5 732.5 418 739.8" stroke="#808080" stroke-width="5.4"/><path d="M436 731.0 Q444.5 732.5 448 739.8" stroke="#808080" stroke-width="5.4"/><ellipse cx="433" cy="731.5" rx="7" ry="5.6" fill="#858585" stroke="none"/></g>
<g opacity="1" fill="none" stroke-linecap="round"><path d="M430 722.3 Q421.5 720.8 418 713.5" stroke="#c2c2c2" stroke-width="5.4"/><path d="M436 722.3 Q444.5 720.8 448 713.5" stroke="#c2c2c2" stroke-width="5.4"/><ellipse cx="433" cy="721.8" rx="7" ry="5.6" fill="#d6d6d6" stroke="none"/></g>
<ellipse cx="432.5" cy="721" rx="3.2" ry="2" fill="#f0f0f0"/>
<path d="M418.5 713 l2 -1 M447.5 713 l-2 -1" stroke="#e8a070" stroke-width="1.6" stroke-linecap="round"/>
<g opacity="0.9" fill="none" stroke-linecap="round"><path d="M479.5 731.0 Q471.0 732.5 467.5 739.8" stroke="#808080" stroke-width="5.4"/><path d="M485.5 731.0 Q494.0 732.5 497.5 739.8" stroke="#808080" stroke-width="5.4"/><ellipse cx="482.5" cy="731.5" rx="7" ry="5.6" fill="#858585" stroke="none"/></g>
<g opacity="1" fill="none" stroke-linecap="round"><path d="M479.5 722.3 Q471.0 720.8 467.5 713.5" stroke="#c2c2c2" stroke-width="5.4"/><path d="M485.5 722.3 Q494.0 720.8 497.5 713.5" stroke="#c2c2c2" stroke-width="5.4"/><ellipse cx="482.5" cy="721.8" rx="7" ry="5.6" fill="#d6d6d6" stroke="none"/></g>
<ellipse cx="482.0" cy="721" rx="3.2" ry="2" fill="#f0f0f0"/>
<path d="M468.0 713 l2 -1 M497.0 713 l-2 -1" stroke="#e8a070" stroke-width="1.6" stroke-linecap="round"/>
<g opacity="0.9" fill="none" stroke-linecap="round"><path d="M528 731.0 Q519.5 732.5 516 739.8" stroke="#808080" stroke-width="5.4"/><path d="M534 731.0 Q542.5 732.5 546 739.8" stroke="#808080" stroke-width="5.4"/><ellipse cx="531" cy="731.5" rx="7" ry="5.6" fill="#858585" stroke="none"/></g>
<g opacity="1" fill="none" stroke-linecap="round"><path d="M528 722.3 Q519.5 720.8 516 713.5" stroke="#c2c2c2" stroke-width="5.4"/><path d="M534 722.3 Q542.5 720.8 546 713.5" stroke="#c2c2c2" stroke-width="5.4"/><ellipse cx="531" cy="721.8" rx="7" ry="5.6" fill="#d6d6d6" stroke="none"/></g>
<ellipse cx="530.5" cy="721" rx="3.2" ry="2" fill="#f0f0f0"/>
<path d="M516.5 713 l2 -1 M545.5 713 l-2 -1" stroke="#e8a070" stroke-width="1.6" stroke-linecap="round"/>
<g opacity="0.9" fill="none" stroke-linecap="round"><path d="M577 731.0 Q568.5 732.5 565 739.8" stroke="#808080" stroke-width="5.4"/><path d="M583 731.0 Q591.5 732.5 595 739.8" stroke="#808080" stroke-width="5.4"/><ellipse cx="580" cy="731.5" rx="7" ry="5.6" fill="#858585" stroke="none"/></g>
<g opacity="1" fill="none" stroke-linecap="round"><path d="M577 722.3 Q568.5 720.8 565 713.5" stroke="#c2c2c2" stroke-width="5.4"/><path d="M583 722.3 Q591.5 720.8 595 713.5" stroke="#c2c2c2" stroke-width="5.4"/><ellipse cx="580" cy="721.8" rx="7" ry="5.6" fill="#d6d6d6" stroke="none"/></g>
<ellipse cx="579.5" cy="721" rx="3.2" ry="2" fill="#f0f0f0"/>
<path d="M565.5 713 l2 -1 M594.5 713 l-2 -1" stroke="#e8a070" stroke-width="1.6" stroke-linecap="round"/>
<g opacity="0.6"><ellipse cx="229.75" cy="761.7" rx="6.5" ry="5.5" fill="#8f8f8f"/><path d="M233.75 761.2 L257.2 762.7" stroke="#8c8c8c" stroke-width="5" stroke-linecap="round"/></g>
<path d="M231.75 744.8000000000001 L256.2 759.7" stroke="#8e8e8e" stroke-width="8" stroke-linecap="round"/>
<path d="M231.75 744.1 L256.2 759.0" stroke="#cdcdcd" stroke-width="6.2" stroke-linecap="round"/>
<path d="M232.75 742.6 L255.8 756.9" stroke="#efefef" stroke-width="1.6" stroke-linecap="round"/>
<ellipse cx="228.75" cy="743.2" rx="7.2" ry="8.4" transform="rotate(-25 228.75 743.2)" fill="#a6a6a6"/>
<ellipse cx="227.95" cy="742.4000000000001" rx="5.3" ry="6.5" transform="rotate(-25 228.75 743.2)" fill="#c9c9c9"/>
<ellipse cx="226.75" cy="740.2" rx="2.2" ry="1.6" fill="#e6e6e6"/>
<g opacity="0.6"><ellipse cx="281" cy="761.7" rx="6.5" ry="5.5" fill="#8f8f8f"/><path d="M285 761.2 L309.2 762.7" stroke="#8c8c8c" stroke-width="5" stroke-linecap="round"/></g>
<path d="M283 744.8000000000001 L308.2 759.5" stroke="#8e8e8e" stroke-width="8" stroke-linecap="round"/>
<path d="M283 744.1 L308.2 758.8" stroke="#cdcdcd" stroke-width="6.2" stroke-linecap="round"/>
<path d="M284 742.6 L307.7 756.6" stroke="#efefef" stroke-width="1.6" stroke-linecap="round"/>
<ellipse cx="280" cy="743.2" rx="7.2" ry="8.4" transform="rotate(-25 280 743.2)" fill="#a6a6a6"/>
<ellipse cx="279.2" cy="742.4000000000001" rx="5.3" ry="6.5" transform="rotate(-25 280 743.2)" fill="#c9c9c9"/>
<ellipse cx="278" cy="740.2" rx="2.2" ry="1.6" fill="#e6e6e6"/>
<g opacity="0.6"><ellipse cx="333.5" cy="761.7" rx="6.5" ry="5.5" fill="#8f8f8f"/><path d="M337.5 761.2 L362.4 762.7" stroke="#8c8c8c" stroke-width="5" stroke-linecap="round"/></g>
<path d="M335.5 744.8000000000001 L361.4 759.2" stroke="#8e8e8e" stroke-width="8" stroke-linecap="round"/>
<path d="M335.5 744.1 L361.4 758.5" stroke="#cdcdcd" stroke-width="6.2" stroke-linecap="round"/>
<path d="M336.5 742.6 L360.9 756.4" stroke="#efefef" stroke-width="1.6" stroke-linecap="round"/>
<ellipse cx="332.5" cy="743.2" rx="7.2" ry="8.4" transform="rotate(-25 332.5 743.2)" fill="#a6a6a6"/>
<ellipse cx="331.7" cy="742.4000000000001" rx="5.3" ry="6.5" transform="rotate(-25 332.5 743.2)" fill="#c9c9c9"/>
<ellipse cx="330.5" cy="740.2" rx="2.2" ry="1.6" fill="#e6e6e6"/>
<g opacity="0.6"><ellipse cx="382" cy="761.7" rx="6.5" ry="5.5" fill="#8f8f8f"/><path d="M386 761.2 L411.6 762.7" stroke="#8c8c8c" stroke-width="5" stroke-linecap="round"/></g>
<path d="M384 744.8000000000001 L410.6 759.0" stroke="#8e8e8e" stroke-width="8" stroke-linecap="round"/>
<path d="M384 744.1 L410.6 758.2" stroke="#cdcdcd" stroke-width="6.2" stroke-linecap="round"/>
<path d="M385 742.6 L410.1 756.1" stroke="#efefef" stroke-width="1.6" stroke-linecap="round"/>
<ellipse cx="381" cy="743.2" rx="7.2" ry="8.4" transform="rotate(-25 381 743.2)" fill="#a6a6a6"/>
<ellipse cx="380.2" cy="742.4000000000001" rx="5.3" ry="6.5" transform="rotate(-25 381 743.2)" fill="#c9c9c9"/>
<ellipse cx="379" cy="740.2" rx="2.2" ry="1.6" fill="#e6e6e6"/>
<g opacity="0.6"><ellipse cx="435" cy="761.7" rx="6.5" ry="5.5" fill="#8f8f8f"/><path d="M439 761.2 L465.3 762.7" stroke="#8c8c8c" stroke-width="5" stroke-linecap="round"/></g>
<path d="M437 744.8000000000001 L464.3 758.7" stroke="#8e8e8e" stroke-width="8" stroke-linecap="round"/>
<path d="M437 744.1 L464.3 758.0" stroke="#cdcdcd" stroke-width="6.2" stroke-linecap="round"/>
<path d="M438 742.6 L463.8 755.9" stroke="#efefef" stroke-width="1.6" stroke-linecap="round"/>
<ellipse cx="434" cy="743.2" rx="7.2" ry="8.4" transform="rotate(-25 434 743.2)" fill="#a6a6a6"/>
<ellipse cx="433.2" cy="742.4000000000001" rx="5.3" ry="6.5" transform="rotate(-25 434 743.2)" fill="#c9c9c9"/>
<ellipse cx="432" cy="740.2" rx="2.2" ry="1.6" fill="#e6e6e6"/>
<g opacity="0.6"><ellipse cx="487" cy="761.7" rx="6.5" ry="5.5" fill="#8f8f8f"/><path d="M491 761.2 L518.0 762.7" stroke="#8c8c8c" stroke-width="5" stroke-linecap="round"/></g>
<path d="M489 744.8000000000001 L517.0 758.5" stroke="#8e8e8e" stroke-width="8" stroke-linecap="round"/>
<path d="M489 744.1 L517.0 757.8" stroke="#cdcdcd" stroke-width="6.2" stroke-linecap="round"/>
<path d="M490 742.6 L516.5 755.6" stroke="#efefef" stroke-width="1.6" stroke-linecap="round"/>
<ellipse cx="486" cy="743.2" rx="7.2" ry="8.4" transform="rotate(-25 486 743.2)" fill="#a6a6a6"/>
<ellipse cx="485.2" cy="742.4000000000001" rx="5.3" ry="6.5" transform="rotate(-25 486 743.2)" fill="#c9c9c9"/>
<ellipse cx="484" cy="740.2" rx="2.2" ry="1.6" fill="#e6e6e6"/>
<g opacity="0.6"><ellipse cx="538.5" cy="761.7" rx="6.5" ry="5.5" fill="#8f8f8f"/><path d="M542.5 761.2 L570.2 762.7" stroke="#8c8c8c" stroke-width="5" stroke-linecap="round"/></g>
<path d="M540.5 744.8000000000001 L569.2 758.2" stroke="#8e8e8e" stroke-width="8" stroke-linecap="round"/>
<path d="M540.5 744.1 L569.2 757.5" stroke="#cdcdcd" stroke-width="6.2" stroke-linecap="round"/>
<path d="M541.5 742.6 L568.7 755.4" stroke="#efefef" stroke-width="1.6" stroke-linecap="round"/>
<ellipse cx="537.5" cy="743.2" rx="7.2" ry="8.4" transform="rotate(-25 537.5 743.2)" fill="#a6a6a6"/>
<ellipse cx="536.7" cy="742.4000000000001" rx="5.3" ry="6.5" transform="rotate(-25 537.5 743.2)" fill="#c9c9c9"/>
<ellipse cx="535.5" cy="740.2" rx="2.2" ry="1.6" fill="#e6e6e6"/>
<g opacity="0.6"><ellipse cx="590" cy="761.7" rx="6.5" ry="5.5" fill="#8f8f8f"/><path d="M594 761.2 L622.4 762.7" stroke="#8c8c8c" stroke-width="5" stroke-linecap="round"/></g>
<path d="M592 744.8000000000001 L621.4 758.0" stroke="#8e8e8e" stroke-width="8" stroke-linecap="round"/>
<path d="M592 744.1 L621.4 757.2" stroke="#cdcdcd" stroke-width="6.2" stroke-linecap="round"/>
<path d="M593 742.6 L620.9 755.1" stroke="#efefef" stroke-width="1.6" stroke-linecap="round"/>
<ellipse cx="589" cy="743.2" rx="7.2" ry="8.4" transform="rotate(-25 589 743.2)" fill="#a6a6a6"/>
<ellipse cx="588.2" cy="742.4000000000001" rx="5.3" ry="6.5" transform="rotate(-25 589 743.2)" fill="#c9c9c9"/>
<ellipse cx="587" cy="740.2" rx="2.2" ry="1.6" fill="#e6e6e6"/>
<g stroke="#e6e6e6" stroke-width="1.1" fill="none"><path d="M216.5 13 V78 M603 13 V78 M216.5 53 H603"/><path d="M622 82.5 H672 M647 82.5 V601 M622.5 601.5 H672"/></g>
<g stroke="#f3e6dc" stroke-width="0.9" fill="none"><path d="M367.5 182.5 V290 M451 182.5 V290"/><path d="M276.5 194 V388.5 H350 M542.5 194 V388.5 H476 M321.75 337 V388.5 M497 337 V388.5"/><path d="M257 464.5 H315 M505 464.5 H562"/></g>
<g stroke="#d0d0d0" stroke-width="1.1" fill="none"><path d="M160 605 H181"/><path d="M158 673 H252"/><path d="M148 743.7 H223"/><path d="M594 644.5 H628"/><path d="M592 722 H600"/></g>
<g opacity="0.999">
<rect x="357" y="37" width="103" height="30.5" rx="15.25" fill="#fff"/>
<text x="373.68" y="62" font-size="27.5" textLength="70.72" lengthAdjust="spacingAndGlyphs" fill="#000" stroke="#000" stroke-width="0.75" stroke-linejoin="round">Width</text>
<rect x="302.6" y="286.8" width="219.39999999999998" height="35.19999999999999" rx="17.599999999999994" fill="#fff"/>
<text x="313.94" y="312.3" font-size="25.8" textLength="191.48" lengthAdjust="spacingAndGlyphs" fill="#000" stroke="#000" stroke-width="0.75" stroke-linejoin="round">For Edge Bander</text>
<rect x="343.5" y="373.5" width="138.3" height="28.69999999999999" rx="14.349999999999994" fill="#fff"/>
<text x="353.40" y="396.3" font-size="25.8" textLength="115.02" lengthAdjust="spacingAndGlyphs" fill="#000" stroke="#000" stroke-width="0.75" stroke-linejoin="round">For Cutter</text>
<rect x="311" y="449.6" width="200" height="28.399999999999977" rx="14.199999999999989" fill="#fff"/>
<text x="320.94" y="471" font-size="25.8" textLength="180.48" lengthAdjust="spacingAndGlyphs" fill="#000" stroke="#000" stroke-width="0.75" stroke-linejoin="round">For Leaning Bar</text>
<rect x="610" y="339.6" width="115" height="41.19999999999999" rx="20.599999999999994" fill="#fff"/>
<text x="627.77" y="369" font-size="27.5" textLength="78.42" lengthAdjust="spacingAndGlyphs" fill="#000" stroke="#000" stroke-width="0.75" stroke-linejoin="round">Height</text>
<rect x="7.7" y="590.6" width="154.8" height="34.39999999999998" rx="17.19999999999999" fill="#fff"/>
<text x="18.35" y="616" font-size="26" textLength="135.07" lengthAdjust="spacingAndGlyphs" fill="#000" stroke="#000" stroke-width="0.75" stroke-linejoin="round">Leaning Bar</text>
<rect x="62" y="653.75" width="98" height="35.75" rx="17.875" fill="#fff"/>
<text x="71.39" y="679" font-size="26" textLength="77.52" lengthAdjust="spacingAndGlyphs" fill="#000" stroke="#000" stroke-width="0.75" stroke-linejoin="round">Spacer</text>
<rect x="52" y="727.5" width="98" height="31.25" rx="15.625" fill="#fff"/>
<text x="66.38" y="752" font-size="26" textLength="68.56" lengthAdjust="spacingAndGlyphs" fill="#000" stroke="#000" stroke-width="0.75" stroke-linejoin="round">Screw</text>
<rect x="624" y="630.6" width="94" height="32.60000000000002" rx="16.30000000000001" fill="#fff"/>
<text x="632.43" y="655.2" font-size="26" textLength="74.90" lengthAdjust="spacingAndGlyphs" fill="#000" stroke="#000" stroke-width="0.75" stroke-linejoin="round">Clamp</text>
<rect x="596" y="707" width="186" height="32" rx="16.0" fill="#fff"/>
<text x="601.59" y="731.25" font-size="25.8" textLength="174.36" lengthAdjust="spacingAndGlyphs" fill="#000" stroke="#000" stroke-width="0.75" stroke-linejoin="round">Hexagonal Nut</text>
</g></svg>
</body></html>
